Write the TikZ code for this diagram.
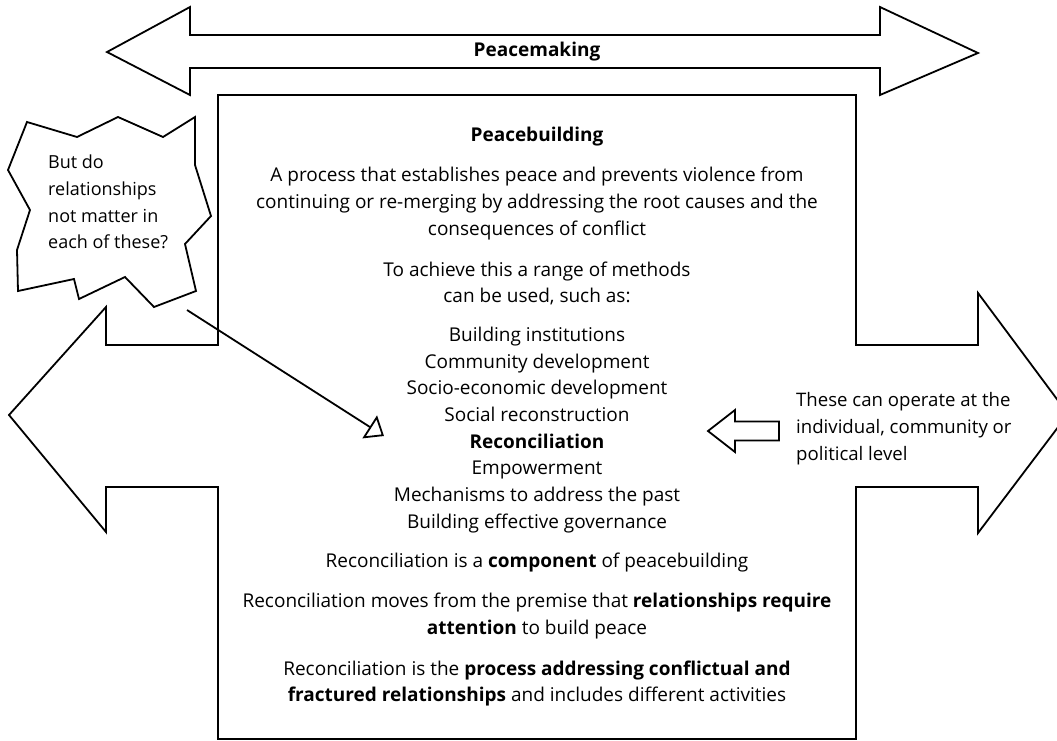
\documentclass[tikz,border=0pt]{standalone}
\usepackage{fontspec}
\setmainfont{Open Sans}
\usetikzlibrary{arrows.meta}
\begin{document}
\begin{tikzpicture}[x=1pt,y=-1pt,
  outline/.style={draw=black, fill=white, line width=1.8pt, line join=miter},
  txt/.style={inner sep=0pt, font=\fontsize{19}{26.7}\selectfont, align=center},
  ltxt/.style={inner sep=0pt, font=\fontsize{18.6}{26.7}\selectfont, align=left, anchor=west},
  pointer/.style={line width=1.8pt, -{Triangle[open,length=17pt,width=27pt]}}
  ]
\useasboundingbox (0,0) rectangle (1057,740);
% central box joined with the horizontal double arrow
\begin{scope}
\clip (0,0) rectangle (1057,740);
\draw[outline] (218,95) -- (856,95) -- (856,345) -- (978,345) -- (978,293) -- (1068,414)
  -- (978,533) -- (978,487) -- (856,487) -- (856,739) -- (218,739) -- (218,487)
  -- (106,487) -- (106,532) -- (9,415) -- (106,307) -- (106,345) -- (218,345) -- cycle;
\end{scope}
% top double arrow
\draw[outline] (107,52) -- (190,7) -- (190,35) -- (880,35) -- (880,7) -- (978,53)
  -- (880,95) -- (880,68) -- (190,68) -- (190,95) -- cycle;
\node[txt, font=\fontsize{19}{26.7}\selectfont\bfseries] (peacemaking) at (537,52) {Peacemaking};
% callout
\draw[outline] (27,122) -- (77,137) -- (118,117) -- (163,137) -- (195,117) -- (195,165)
  -- (211,216) -- (185,244) -- (196,291) -- (154,307) -- (125,277) -- (79,299)
  -- (74,279) -- (18,291) -- (17,250) -- (30,210) -- (8,170) -- cycle;
\node[ltxt, font=\fontsize{18}{26.7}\selectfont] (question) at (48,202) {But do\\relationships\\not matter in\\each of these?};
% texts in box
\node[txt, font=\fontsize{19}{26.7}\selectfont\bfseries] (title) at (537,137) {Peacebuilding};
\node[txt] (def) at (537,203.5) {A process that establishes peace and prevents violence from\\continuing or re-merging by addressing the root causes and the\\consequences of conflict};
\node[txt] (achieve) at (537,283.5) {To achieve this a range of methods\\can be used, such as:};
\node[txt] (list) at (537,430) {Building institutions\\Community development\\Socio-economic development\\Social reconstruction\\\textbf{Reconciliation}\\Empowerment\\Mechanisms to address the past\\Building effective governance};
\node[txt] (component) at (537,563) {Reconciliation is a \textbf{component} of peacebuilding};
\node[txt] (moves) at (537,616) {Reconciliation moves from the premise that \textbf{relationships require}\\\textbf{attention} to build peace};
\node[txt] (process) at (537,683.5) {Reconciliation is the \textbf{process addressing conflictual and}\\\textbf{fractured relationships} and includes different activities};
% right text and block arrow
\node[ltxt] (levels) at (796,428.5) {These can operate at the\\individual, community or\\political level};
\draw[outline] (708,431) -- (735,410) -- (735,421.5) -- (779,421.5) -- (779,440.5)
  -- (735,440.5) -- (735,452) -- cycle;
% pointer from callout
\coordinate (qtail) at (187,310);
\coordinate (qhead) at (384,436);
\draw[pointer] (qtail) -- (qhead);
\end{tikzpicture}
\end{document}
